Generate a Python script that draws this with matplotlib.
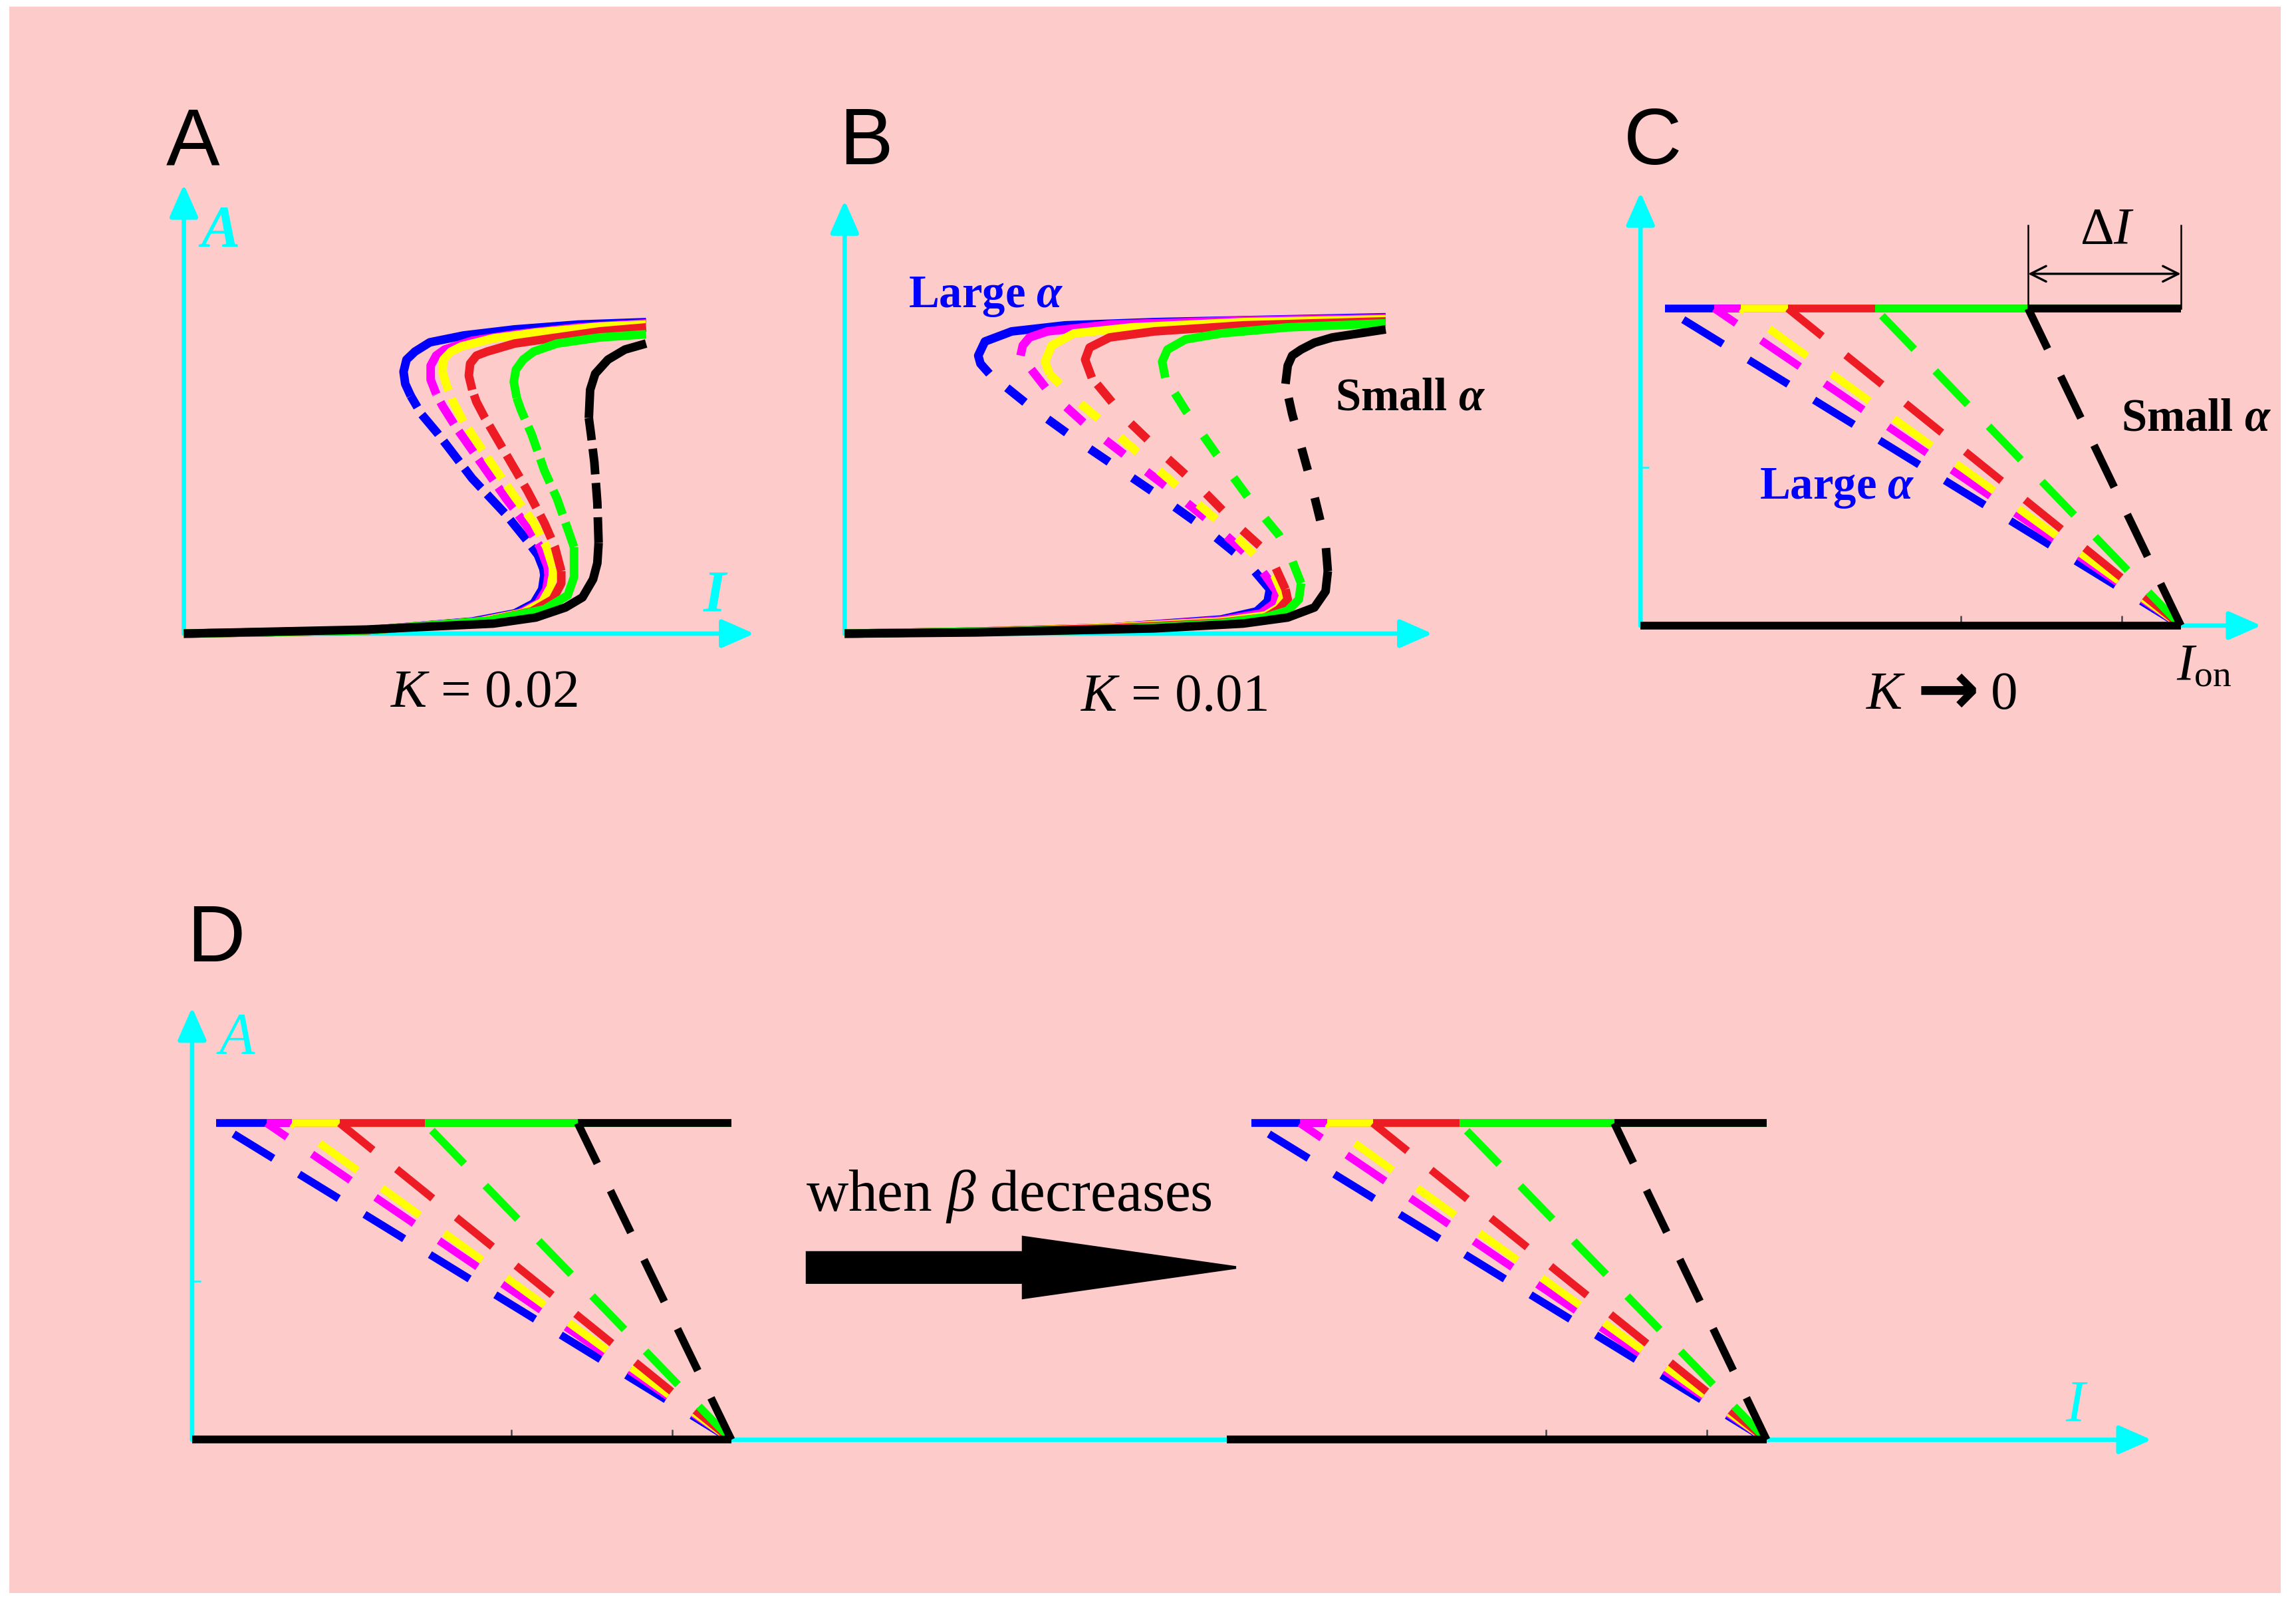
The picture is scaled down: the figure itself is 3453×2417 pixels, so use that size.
"""Bistability schematic: S-shaped response curves A(I) for several alpha values."""

import matplotlib.pyplot as plt
from matplotlib.patches import Rectangle

plt.rcParams["mathtext.fontset"] = "custom"
plt.rcParams["mathtext.rm"] = "Liberation Serif"
plt.rcParams["mathtext.it"] = "Liberation Serif:italic"
plt.rcParams["mathtext.bf"] = "Liberation Serif:bold"
plt.rcParams["mathtext.bfit"] = "Liberation Serif:italic:bold"

SERIF = ["Liberation Serif", "DejaVu Serif"]
SANS = ["Liberation Sans", "DejaVu Sans"]

W, H, DPI = 3453, 2417, 300
PINK = "#FECBCB"
CYAN = "#00FFFF"
# one colour per alpha value, large alpha -> small alpha
CURVE_COLORS = ["#0000FF", "#FF00FF", "#FFFF00", "#ED1C24", "#00FF00", "#000000"]

# ---------------- panel A, K = 0.02 : (I, A) of lower / unstable / upper branch
A_BLUE = (
    [(0, 0), (430, 8), (680, 30), (780, 50), (825, 75), (845, 110), (850, 145), (848, 160)],
    [(848, 160), (835, 195), (810, 230), (760, 295), (680, 385), (600, 495), (560, 545), (535, 590)],
    [(535, 590), (522, 620), (518, 650), (525, 680), (545, 700), (580, 723), (660, 740),
     (780, 755), (930, 767), (1090, 773)],
)
A_MAGENTA = (
    [(0, 0), (430, 8), (690, 30), (790, 50), (835, 75), (855, 110), (860, 145), (858, 165)],
    [(858, 165), (840, 215), (810, 265), (760, 335), (700, 425), (640, 515), (610, 565), (595, 595)],
    [(595, 595), (582, 630), (582, 665), (595, 690), (615, 705), (680, 727), (780, 743),
     (930, 760), (1090, 770)],
)
A_YELLOW = (
    [(0, 0), (430, 8), (700, 30), (800, 52), (845, 78), (865, 115), (870, 145), (870, 165)],
    [(870, 165), (855, 215), (825, 275), (780, 340), (720, 430), (660, 525), (635, 575), (620, 615)],
    [(620, 615), (610, 650), (612, 680), (630, 700), (655, 713), (730, 733), (830, 747),
     (980, 762), (1090, 767)],
)
A_RED = (
    [(0, 0), (430, 8), (710, 30), (820, 55), (870, 85), (890, 125), (890, 155)],
    [(890, 155), (875, 215), (850, 275), (810, 355), (760, 445), (710, 535), (690, 575), (680, 605)],
    [(680, 605), (672, 640), (675, 670), (690, 690), (715, 700), (780, 720), (880, 735),
     (980, 750), (1090, 760)],
)
A_GREEN = (
    [(0, 0), (430, 8), (720, 32), (850, 60), (905, 95), (920, 140), (920, 215)],
    [(920, 215), (900, 275), (880, 335), (850, 405), (820, 495), (795, 555), (785, 585)],
    [(785, 585), (778, 625), (783, 655), (800, 680), (825, 700), (880, 720), (980, 735), (1090, 743)],
)
A_BLACK = (
    [(0, 0), (430, 10), (730, 25), (830, 40), (900, 65), (940, 90), (965, 135), (975, 175), (978, 225)],
    [(978, 225), (975, 325), (968, 425), (960, 495), (955, 535)],
    [(955, 535), (958, 605), (970, 645), (1000, 680), (1040, 705), (1090, 720)],
)

# ---------------- panel B, K = 0.01
B_BLUE = (
    [(0, 0), (295, 5), (595, 15), (845, 35), (925, 55), (950, 80), (955, 110)],
    [(955, 110), (905, 175), (810, 260), (715, 335), (615, 410), (515, 485), (415, 565), (325, 645)],
    [(325, 645), (305, 670), (300, 690), (315, 725), (375, 750), (495, 765), (695, 773),
     (995, 780), (1215, 785)],
)
B_MAGENTA = (
    [(0, 0), (295, 5), (595, 15), (845, 33), (935, 50), (965, 75), (970, 105)],
    [(970, 105), (925, 175), (835, 265), (740, 350), (645, 430), (545, 515), (455, 605), (395, 690)],
    [(395, 690), (400, 715), (415, 735), (455, 750), (595, 767), (895, 777), (1215, 783)],
)
B_YELLOW = (
    [(0, 0), (295, 5), (595, 15), (845, 30), (945, 45), (975, 65), (985, 95)],
    [(985, 95), (965, 145), (880, 240), (785, 330), (695, 415), (605, 500), (515, 585), (460, 645)],
    [(460, 645), (450, 675), (465, 715), (515, 745), (645, 760), (895, 773), (1215, 780)],
)
B_RED = (
    [(0, 0), (295, 5), (595, 13), (845, 27), (945, 40), (975, 60), (995, 85), (990, 110)],
    [(990, 110), (955, 195), (885, 265), (805, 355), (715, 445), (630, 535), (555, 635)],
    [(555, 635), (540, 680), (550, 710), (595, 735), (695, 750), (895, 765), (1215, 775)],
)
B_GREEN = (
    [(0, 0), (295, 5), (595, 10), (845, 25), (945, 40), (995, 57), (1020, 85), (1025, 125)],
    [(1025, 125), (1000, 195), (975, 245), (915, 325), (835, 445), (765, 555), (720, 635)],
    [(720, 635), (713, 675), (725, 705), (765, 730), (845, 745), (995, 760), (1215, 770)],
)
B_BLACK = (
    [(0, 0), (295, 3), (695, 13), (895, 25), (995, 40), (1055, 65), (1080, 105), (1085, 155)],
    [(1085, 155), (1080, 225), (1065, 295), (1045, 385), (1025, 465), (1005, 545), (990, 620)],
    [(990, 620), (995, 665), (1005, 690), (1025, 705), (1055, 722), (1095, 735), (1215, 755)],
)

# ---------------- panel C, K -> 0 : fold points of the upper branch, all meeting at I_on
C_FOLD_I = [55, 165, 225, 330, 525, 868]
C_UPPER_A = 787
C_ION = 1210
C_DELTA_TOP = 993

# ---------------- panel D : same picture before / after beta decreases
D1_FOLD_I = [36, 112, 150, 222, 350, 580]
D1_ION = 811
D1_LOW_START = 0
D2_FOLD_I = [1593, 1666, 1707, 1776, 1906, 2139]
D2_ION = 2368
D2_LOW_START = 1556
D_UPPER_A = 476


def make_axes(fig, rect, xmax, ymax, xticks=(), yticks=()):
    ax = fig.add_axes(rect)
    ax.set_xlim(0, xmax)
    ax.set_ylim(0, ymax)
    ax.patch.set_alpha(0)
    for spine in ax.spines.values():
        spine.set_visible(False)
    ax.set_xticks(list(xticks))
    ax.set_yticks(list(yticks))
    ax.set_xticklabels([])
    ax.set_yticklabels([])
    ax.tick_params(axis="x", direction="in", length=3.5, width=0.6, colors="#444444")
    ax.tick_params(axis="y", direction="in", length=3, width=0.6, colors=CYAN)
    kw = dict(arrowstyle="-|>,head_length=0.5,head_width=0.22", color=CYAN, lw=1.6,
              shrinkA=0, shrinkB=0, mutation_scale=20)
    ax.annotate("", xy=(1, 0), xytext=(0, 0), xycoords="axes fraction", arrowprops=kw, zorder=1)
    ax.annotate("", xy=(0, 1), xytext=(0, 0), xycoords="axes fraction", arrowprops=kw, zorder=1)
    return ax


def draw_s_curves(ax, curves, dashes, lw=3.1):
    for color, (low, mid, up) in zip(CURVE_COLORS, curves):
        for pts, dashed in ((low, False), (mid, True), (up, False)):
            x, y = zip(*pts)
            kw = dict(color=color, lw=lw, solid_joinstyle="round", solid_capstyle="butt",
                      clip_on=False, zorder=2)
            if dashed:
                kw["dashes"] = dashes
            ax.plot(x, y, **kw)


def draw_fan(ax, folds, i_on, top, low_start, dashes, lw=2.8):
    for color, f in zip(CURVE_COLORS, folds):
        ax.plot([f, i_on], [top, top], color=color, lw=lw, solid_capstyle="butt",
                clip_on=False, zorder=2)
    # unstable branches, dashed from the common point I_on up to each fold
    for color, f in zip(CURVE_COLORS, folds):
        ax.plot([i_on, f], [0, top], color=color, lw=lw, dashes=dashes, clip_on=False, zorder=2)
    ax.plot([low_start, i_on], [0, 0], color="black", lw=lw, solid_capstyle="butt",
            clip_on=False, zorder=2)


fig = plt.figure(figsize=(W / DPI, H / DPI), dpi=DPI, facecolor="white")
fig.add_artist(Rectangle((14 / W, 1 - 2396 / H), 3416 / W, 2386 / H,
                         transform=fig.transFigure, facecolor=PINK, edgecolor="none", zorder=-10))

# panel A
axA = make_axes(fig, [0.08008, 0.60571, 0.24842, 0.27956], 1345, 1115)
draw_s_curves(axA, [A_BLUE, A_MAGENTA, A_YELLOW, A_RED, A_GREEN, A_BLACK], (3.0, 1.0))
axA.text(87, 997, "A", color=CYAN, family=SERIF, style="italic", weight="bold",
         fontsize=21, ha="center", va="center")
axA.text(1252, 93, "I", color=CYAN, family=SERIF, style="italic", weight="bold",
         fontsize=21, ha="center", va="center")
axA.text(708, -150, "$K$ = 0.02", family=SERIF, fontsize=19.5, ha="center", va="center")

# panel B
axB = make_axes(fig, [0.36788, 0.60571, 0.25601, 0.26955], 1320, 1075)
draw_s_curves(axB, [B_BLUE, B_MAGENTA, B_YELLOW, B_RED, B_GREEN, B_BLACK], (2.7, 3.3))
axB.text(317, 835, r"Large $\mathbfit{\alpha}$", color="#0000FF", family=SERIF,
         weight="bold", fontsize=16.5, ha="center", va="center")
axB.text(1270, 583, r"Small $\mathbfit{\alpha}$", color="black", family=SERIF,
         weight="bold", fontsize=16.5, ha="center", va="center")
axB.text(740, -160, "$K$ = 0.01", family=SERIF, fontsize=19.5, ha="center", va="center")

# panel C
axC = make_axes(fig, [0.71451, 0.61072, 0.27034, 0.26955], 1390, 1075,
                xticks=[718, 1078], yticks=[393])
draw_fan(axC, C_FOLD_I, C_ION, C_UPPER_A, 0, (6.0, 3.9))
for xi in (C_FOLD_I[-1], C_ION):
    axC.plot([xi, xi], [C_UPPER_A, C_DELTA_TOP], color="black", lw=0.6, clip_on=False)
axC.annotate("", xy=(C_ION, 873), xytext=(C_FOLD_I[-1], 873), xycoords="data",
             arrowprops=dict(arrowstyle="<->", color="black", lw=0.8, shrinkA=0, shrinkB=0,
                             mutation_scale=14))
axC.text(1045, 980, r"Δ$I$", family=SERIF, fontsize=19, ha="center", va="center")
axC.text(1245, 512, r"Small $\mathbfit{\alpha}$", color="black", family=SERIF,
         weight="bold", fontsize=16.5, ha="center", va="center")
axC.text(440, 340, r"Large $\mathbfit{\alpha}$", color="#0000FF", family=SERIF,
         weight="bold", fontsize=16.5, ha="center", va="center")
axC.text(1200, -135, r"$I_{\mathrm{on}}$", family=SERIF, fontsize=19, ha="left", va="baseline")
axC.text(550, -175, "$K$", family=SERIF, fontsize=19.5, ha="center", va="center")
axC.text(688, -170, "→", family=["DejaVu Sans"], weight="bold", fontsize=27,
         ha="center", va="center")
axC.text(815, -175, "0", family=SERIF, fontsize=19.5, ha="center", va="center")

# panel D
axD = make_axes(fig, [0.08367, 0.10406, 0.85341, 0.26905], 2947, 650,
                xticks=[480, 722, 2036, 2278], yticks=[238])
draw_fan(axD, D1_FOLD_I, D1_ION, D_UPPER_A, D1_LOW_START, (6.0, 3.9))
draw_fan(axD, D2_FOLD_I, D2_ION, D_UPPER_A, D2_LOW_START, (6.0, 3.9))
axD.arrow(925, 259, 645, 0, width=45, head_width=91, head_length=320,
          length_includes_head=True, color="black", zorder=3)
axD.text(923, 344, r"when $\beta$ decreases", family=SERIF, fontsize=21,
         ha="left", va="baseline")
axD.text(68, 603, "A", color=CYAN, family=SERIF, style="italic", fontsize=21,
         ha="center", va="center")
axD.text(2832, 50, "I", color=CYAN, family=SERIF, style="italic", fontsize=21,
         ha="center", va="center")

for letter, x, y in (("A", 0.0723, 0.8978), ("B", 0.3655, 0.8978),
                     ("C", 0.7072, 0.8978), ("D", 0.0815, 0.4019)):
    fig.text(x, y, letter, family=SANS, fontsize=29, ha="left", va="baseline")

fig.savefig("out.png", dpi=DPI)
